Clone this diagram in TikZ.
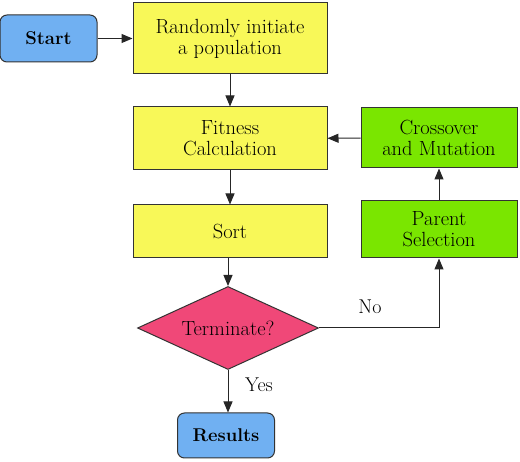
\documentclass[tikz,border=0pt]{standalone}
\usetikzlibrary{shapes.geometric,arrows.meta}
\definecolor{boxyellow}{HTML}{F8F858}
\definecolor{boxgreen}{HTML}{7AE600}
\definecolor{boxblue}{HTML}{70B0F2}
\definecolor{boxpink}{HTML}{F04878}
\begin{document}
\begin{tikzpicture}[x=1pt,y=-1pt,
  every node/.style={font=\fontsize{20.5}{21}\selectfont, align=center, inner sep=0pt},
  procbox/.style={draw=black!80, line width=1pt, rectangle},
  termbox/.style={draw=black!80, line width=1pt, rectangle, rounded corners=7pt, fill=boxblue, font=\fontsize{18.5}{21}\selectfont\bfseries},
  conn/.style={draw=black!85, line width=1pt, -{Triangle[length=11pt,width=9pt]}},
  lbl/.style={font=\fontsize{20}{21}\selectfont}]
\useasboundingbox (0,0) rectangle (520,462);
\node[termbox, minimum width=97pt, minimum height=47pt] (start) at (48.5,38.5) {Start};
\node[procbox, fill=boxyellow, minimum width=194pt, minimum height=71pt] (init) at (230,38.5) {Randomly initiate\\a population};
\node[procbox, fill=boxyellow, minimum width=194pt, minimum height=63pt] (fit) at (230,138.5) {Fitness\\Calculation};
\node[procbox, fill=boxyellow, minimum width=194pt, minimum height=53pt] (sort) at (230,231.5) {Sort};
\node[diamond, draw=black!80, line width=1pt, fill=boxpink, aspect=2.2, minimum width=181pt, minimum height=83pt] (term) at (228,328) {Terminate?};
\node[termbox, minimum width=97pt, minimum height=45pt] (res) at (226,435.5) {Results};
\node[procbox, fill=boxgreen, minimum width=156pt, minimum height=60pt] (cross) at (439,138) {Crossover\\and Mutation};
\node[procbox, fill=boxgreen, minimum width=156pt, minimum height=57pt] (par) at (439,229.5) {Parent\\Selection};
\draw[conn] (start) -- (init);
\draw[conn] (init) -- (fit);
\draw[conn] (fit) -- (sort);
\draw[conn] (sort.south -| term.north) -- (term.north);
\draw[conn] (term.south) -- (term.south |- res.north);
\draw[conn] (term.east) -| (par.south);
\draw[conn] (par) -- (cross);
\draw[conn] (cross) -- (fit);
\node[lbl] (no) at (370,307) {No};
\node[lbl] (yes) at (259,385) {Yes};
\end{tikzpicture}
\end{document}
